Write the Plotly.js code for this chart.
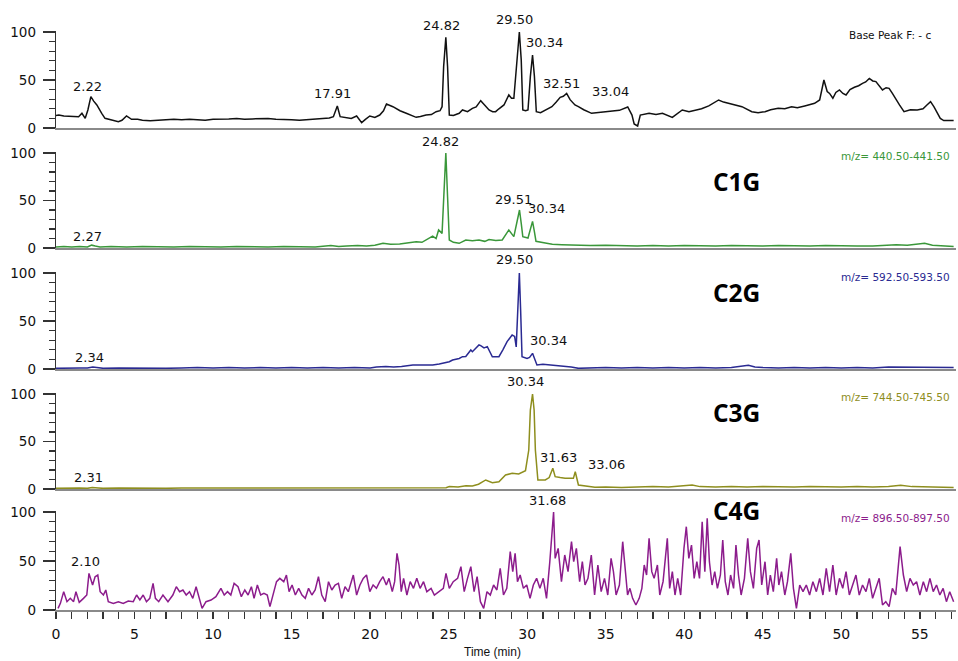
<!DOCTYPE html>
<html><head><meta charset="utf-8">
<script src="https://cdn.plot.ly/plotly-3.0.1.min.js"></script>
<style>html,body{margin:0;padding:0;background:#fff}#chart{width:958px;height:661px}</style>
</head><body><div id="chart"></div>
<script>
// ---------- DATA ----------
const basePeakTime = [0.0,0.18,0.5,0.81,1.1,1.44,1.65,1.86,2.03,2.22,2.4,2.6,2.91,3.12,3.55,3.97,4.2,4.49,4.81,5.2,5.5,6.0,6.5,7.0,7.5,8.0,8.5,9.0,9.5,10.0,10.5,11.0,11.5,12.0,12.5,13.0,13.5,14.0,14.5,15.0,15.5,16.0,16.5,17.0,17.4,17.66,17.91,18.09,18.5,18.8,19.14,19.46,19.7,19.98,20.3,20.61,20.85,21.04,21.45,21.9,22.3,22.93,23.2,23.56,23.9,24.2,24.45,24.58,24.68,24.82,24.93,25.04,25.3,25.67,25.88,26.2,26.51,26.75,27.04,27.3,27.57,27.8,27.99,28.2,28.52,28.83,29.0,29.15,29.33,29.50,29.62,29.72,29.9,30.05,30.2,30.34,30.46,30.58,30.85,31.15,31.57,31.85,32.1,32.3,32.51,32.73,33.04,33.26,33.6,34.1,34.6,35.23,35.87,36.4,36.67,36.81,37.03,37.2,37.76,38.2,38.61,39.24,39.6,39.87,40.3,40.71,41.1,41.56,42.19,42.5,42.82,43.2,43.67,44.3,44.7,45.14,45.5,45.98,46.4,46.83,47.2,47.67,48.0,48.3,48.62,48.89,49.1,49.25,49.46,49.65,49.88,50.1,50.3,50.55,50.83,51.1,51.35,51.55,51.78,52.0,52.2,52.4,52.62,52.85,53.04,53.25,53.46,53.7,53.99,54.4,54.83,55.2,55.45,55.68,55.9,56.1,56.3,56.52,57.15];
const basePeakValue = [13,13.5,12.5,12.5,12,11.8,15.3,10.1,18.8,32.6,28,24,15.3,10.1,8.3,6.6,8,12.5,9,9,8,7.5,8,8.5,9,8.5,9,8.5,8,9,9,9.5,10,9,9.5,10,10,9,9,8.5,8,8.5,9,10,10.5,11.8,22.9,11.8,11.1,10,12.5,5.6,9,12.5,11,13.5,18,25,22.2,18,15.3,11.1,12,13.5,14,17,18,22.2,64,94.4,64,13.5,13,15.3,18.8,17,20.5,22,28.5,24,18.8,17,17,20,24,34.4,31,31,70.8,100,70.8,18.8,18,18.8,53.5,76,53.5,17,16,18.8,22.2,27,32,33,36,29.5,24,22.2,19,15.3,16,17,18.4,21.9,13.5,4.2,2.1,13.5,15.3,14,15.3,11.1,15,18.8,17,18.8,20,23,29.2,27,25.7,24,22.2,17,16,17,19,20.5,20,22.2,21,23,24,25.7,29.2,50,38,36,31,37,39.6,36,34.4,40,42.4,44,46.5,48,51.7,49,48.3,44,39.6,42,41.3,36,31,24,17,19,18.8,20,24,27.4,22,15.3,10,7.7,7.7];

const c1gTime = [0,0.5,1.0,1.5,2.0,2.27,2.5,2.8,3.5,4.5,5.5,6.5,7.5,8.5,9.5,10.5,11.5,12.5,13.5,14.5,15.5,16.5,17.5,18.0,18.5,19.2,19.77,20.3,20.82,21.3,21.88,22.4,22.93,23.3,23.56,23.98,24.2,24.36,24.58,24.68,24.82,24.93,25.04,25.3,25.67,26.09,26.51,26.93,27.3,27.57,28.0,28.41,28.83,29.15,29.33,29.51,29.62,29.72,30.05,30.18,30.34,30.46,30.56,31.15,31.6,32.2,33,34,35,36,37,38,39,40,41,42,43,44,45,46,47,48,49,50,51,52,53,53.5,54.2,55.3,55.8,56.5,57.15];
const c1gValue = [1,1.5,1,1.5,1,3,2,1,1.5,1,1.5,1,1,1.5,1,1,1.5,1,1,1.5,1,1,2.5,1.5,2,2.5,2,3,4.9,4,4.2,5.5,6.7,6,8.4,12.6,10,19,15.4,54,100,54,8.4,6,4.9,8.4,7.7,8.4,7,9,8,8.4,19,12,26,40,26,12,10.5,19,28,17,7,5.3,4,3.5,3,2.5,3,2.5,2,2.5,2,2.5,2,2,2.5,2,2,2.5,2,2,2.5,2,2,2,2.5,3.5,3,5,3,2,1.5];

const c2gTime = [0,0.5,1.0,1.5,2.0,2.34,2.6,3.0,4,5,6,7,8,9,10,11,12,13,14,15,16,17,18,19,20,20.4,21,21.5,22,22.72,23.35,23.98,24.4,25.04,25.25,25.67,25.88,26.09,26.41,26.51,26.93,27.04,27.25,27.46,27.78,28.2,28.45,28.72,29.04,29.2,29.3,29.4,29.50,29.58,29.67,29.99,30.15,30.34,30.62,31.0,31.57,32.0,32.41,32.8,33.26,34,35,36,37,38,39,40,41,42,43,44.08,44.5,45,46,47,48,49,50,51,52,53,54,55,56,57.15];
const c2gValue = [0.7,1,0.7,1,1,2,1.5,0.7,1,0.7,1,0.7,1,1.5,1,1.5,1,1.5,1,1.5,1,1.5,1,1.5,1,2,2.5,2,2.5,4.2,4.2,4.2,5.2,7.6,9.4,11,12.8,13,19.8,18,25,24.3,22,23.3,12.8,12.8,20,28.5,35.4,34,23,62,100,62,12.8,11.1,12,16.3,4.2,5,4.2,3.5,3.1,2,0.7,1,1.5,1,1.5,1,1.5,1,1.5,1,1.5,4,2,1.5,1,1.5,1,1.5,1,1.5,1,2,2,2,2,1.5];

const c3gTime = [0,0.5,1,1.5,2,2.31,2.7,3,4,5,6,7,8,9,10,11,12,13,14,15,16,17,18,19,20,21,22,23,24,24.83,25.04,25.6,26.1,26.51,26.9,27.36,27.78,28.2,28.62,29.04,29.46,29.89,30.1,30.2,30.34,30.44,30.52,30.68,31.15,31.4,31.63,31.78,32.1,32.41,32.94,33.06,33.26,34.31,35,36,37,38,39,40.5,41,42,43,44,45,46,47,48,49,50,51,52,53,53.78,54.5,55.5,56.5,57.15];
const c3gValue = [0.7,1,0.7,1,0.7,1.5,1,0.7,1,0.7,1,0.7,1,1,0.7,1,1.5,1,1,1.5,1,1,1.5,1,1.5,1,1.5,1,1.5,1.4,2.5,2,3.5,3.2,5,9.5,6.7,7.7,14.7,16.5,15.8,19.3,41,83,100,83,41,9.5,9.5,12,21.8,13,12,11.2,11.2,18.2,4.2,1.8,2,1.5,2,2.5,2,4.2,2.5,2,2.5,2,2.5,2,2,2.5,2,2,2.5,2,2.5,4,2.5,2,2,1.5];

const c4gTime = [0.13,0.28,0.49,0.70,0.91,1.12,1.27,1.48,1.75,1.96,2.10,2.33,2.49,2.66,2.81,3.02,3.17,3.33,3.65,3.97,4.28,4.60,4.92,5.13,5.34,5.55,5.76,5.97,6.18,6.33,6.54,6.81,7.13,7.44,7.66,7.87,8.08,8.29,8.50,8.71,8.92,9.13,9.30,9.55,9.87,10.18,10.50,10.71,10.92,11.13,11.34,11.59,11.80,12.02,12.23,12.44,12.61,12.82,13.03,13.24,13.45,13.62,13.83,14.04,14.25,14.50,14.67,14.84,15.03,15.24,15.45,15.66,15.87,16.08,16.29,16.50,16.71,16.92,17.14,17.35,17.56,17.77,17.98,18.19,18.40,18.61,18.93,19.14,19.35,19.56,19.77,19.98,20.19,20.40,20.61,20.82,21.03,21.20,21.41,21.56,21.71,21.84,21.98,22.13,22.34,22.55,22.76,22.97,23.18,23.40,23.61,23.88,24.09,24.41,24.66,24.83,25.04,25.29,25.57,25.78,25.99,26.20,26.41,26.62,26.81,27.02,27.23,27.44,27.65,27.86,28.07,28.28,28.49,28.70,28.92,29.08,29.23,29.38,29.55,29.76,29.97,30.18,30.39,30.60,30.81,31.02,31.23,31.44,31.68,31.78,31.97,32.18,32.39,32.60,32.82,32.96,33.13,33.34,33.51,33.68,33.87,34.08,34.29,34.50,34.71,34.92,35.13,35.34,35.49,35.66,35.87,36.08,36.25,36.39,36.54,36.71,36.92,37.13,37.30,37.45,37.60,37.76,37.93,38.08,38.29,38.44,38.65,38.92,39.07,39.24,39.41,39.58,39.77,39.98,40.13,40.29,40.46,40.63,40.80,40.97,41.14,41.31,41.46,41.60,41.77,41.94,42.11,42.30,42.45,42.61,42.78,42.95,43.14,43.29,43.45,43.62,43.83,44.04,44.21,44.40,44.61,44.76,44.93,45.14,45.31,45.48,45.67,45.88,46.02,46.19,46.40,46.57,46.78,46.95,47.14,47.35,47.56,47.77,47.98,48.19,48.41,48.62,48.83,49.04,49.25,49.46,49.67,49.88,50.09,50.30,50.51,50.72,50.93,51.14,51.35,51.57,51.78,51.99,52.20,52.41,52.62,52.83,53.04,53.25,53.46,53.74,53.95,54.16,54.37,54.58,54.79,55.00,55.22,55.43,55.64,55.85,56.06,56.27,56.48,56.69,56.90,57.15];
const c4gValue = [1.7,6.8,18.7,8.5,11.9,8.5,18.7,7.8,11.9,15.3,37.4,25.5,34,35.7,18.7,15.3,20.4,8.5,6.8,8.5,6.8,9.2,8.5,15.3,10.2,15.3,8.5,11.9,27.2,11.9,8.5,15.3,8.5,15.3,23.8,18.7,20.4,15.3,18.7,11.9,23.8,11.9,1.7,8.5,10.2,13.6,22.1,15.3,18.7,15.3,27.2,23.8,13.6,20.4,15.3,23.8,11.9,25.5,15.3,17,15.3,3.4,15.3,28.9,32.3,28.9,35.7,18.7,25.5,15.3,22.1,15.3,11.9,22.1,15.3,20.4,34,15.3,8.5,28.9,20.4,25.5,27.2,11.9,23.8,18.7,35.7,15.3,25.5,32.3,35.7,18.7,25.5,22.1,28.9,34,25.5,32.3,18.7,28.9,57.8,45.9,18.7,32.3,15.3,28.9,22.1,32.3,22.1,28.9,18.7,22.1,15.3,18.7,22.1,37.4,22.1,28.9,32.3,44.2,18.7,32.3,44.2,18.7,34,8.5,1.7,18.7,15.3,25.5,20.4,42.5,15.3,22.1,59.5,39.1,57.8,28.9,35.7,22.1,25.5,11.9,25.5,32.3,22.1,32.3,11.9,49.3,100,52.7,62.9,28.9,56.1,39.1,69.7,49.3,62.9,28.9,49.3,25.5,32.3,56.1,15.3,45.9,18.7,32.3,15.3,52.7,39.1,15.3,25.5,69.7,35.7,15.3,22.1,11.9,5.1,11.9,22.1,45.9,35.7,73.1,39.1,32.3,45.9,15.3,28.9,73.1,22.1,39.1,15.3,32.3,15.3,62.9,85,52.7,66.3,32.3,49.3,32.3,90,39.1,93.5,49.3,25.5,39.1,22.1,35.7,71.4,28.9,15.3,35.7,22.1,66.3,35.7,15.3,32.3,73.1,39.1,22.1,62.9,71.4,25.5,49.3,15.3,35.7,18.7,52.7,25.5,39.1,15.3,28.9,57.8,22.1,1.7,25.5,18.7,25.5,15.3,28.9,18.7,32.3,15.3,42.5,18.7,45.9,15.3,32.3,22.1,39.1,15.3,25.5,35.7,15.3,25.5,18.7,32.3,11.9,22.1,32.3,5.1,8.5,3.4,22.1,15.3,64.6,35.7,18.7,32.3,25.5,28.9,15.3,28.9,18.7,32.3,18.7,25.5,15.3,22.1,8.5,18.7,8.5];

const panelNames = ['', 'C1G', 'C2G', 'C3G', 'C4G'];
const panelRangeLabels = ['Base Peak F: - c', 'm/z= 440.50-441.50', 'm/z= 592.50-593.50', 'm/z= 744.50-745.50', 'm/z= 896.50-897.50'];
const yTickValues = [0, 50, 100];
const yMinorTickValues = [10, 20, 30, 40, 60, 70, 80, 90];
const xAxisTitle = 'Time (min)';

// peak labels: panel index (1-5) and retention time
const labelPanel = [1,1,1,1,1,1,1, 2,2,2,2, 3,3,3, 4,4,4,4, 5,5];
const labelTime = [2.22,17.91,24.82,29.50,30.34,32.51,33.04, 2.27,24.82,29.51,30.34, 2.34,29.50,30.34, 2.31,30.34,31.63,33.06, 2.10,31.68];

// ---------- STYLE / LAYOUT ----------
const series = [[basePeakTime, basePeakValue],[c1gTime, c1gValue],[c2gTime, c2gValue],[c3gTime, c3gValue],[c4gTime, c4gValue]];
const colors = ['#111111', '#3a973a', '#2a2a92', '#8e8e1e', '#8c1c8c'];
const W = 958, H = 661;
const basePx = [128, 248, 369, 489, 610];
const pxPerUnit = [0.96, 0.95, 0.96, 0.95, 0.98];
const yTop = 101;
const xDom = [56 / W, 956 / W];
const xRange = [0, 57.3];
// label offsets [xshift, yshift, xanchor]
const labelOffsets = [[-3,1,'center'],[-4.5,3,'center'],[-4,2,'center'],[-5,3,'center'],[-9,3,'left'],[-5,0,'center'],[36,4,'center'],
  [-4,-1,'center'],[-5,2,'center'],[-6,1,'center'],[-6.5,3,'left'],
  [-3.5,0,'center'],[-5,4,'center'],[-5,3,'left'],
  [-3.5,1,'center'],[-7,3,'center'],[6,1,'center'],[31,-2,'center'],
  [-3,2,'center'],[-6,2,'center']];
const nameY = [0, 181, 292, 412, 510];
const rangeLabelY = [35, 156, 277, 397, 518];
const rangeLabelX = [933, 952, 952, 952, 952];

const traces = series.map((s, i) => ({
  type: 'scatter', mode: 'lines', x: s[0], y: s[1],
  xaxis: 'x' + (i === 0 ? '' : i + 1), yaxis: 'y' + (i === 0 ? '' : i + 1),
  line: {color: colors[i], width: 1.5}, hoverinfo: 'skip', showlegend: false
}));

const layout = {
  width: W, height: H, margin: {l: 0, r: 0, t: 0, b: 0},
  paper_bgcolor: '#ffffff', plot_bgcolor: 'rgba(0,0,0,0)',
  showlegend: false, annotations: []
};
const tickFont = {family: 'DejaVu Sans, sans-serif', size: 13.5, color: '#111'};
for (let i = 0; i < 5; i++) {
  const sfx = i === 0 ? '' : String(i + 1);
  const bottom = (H - basePx[i]) / H;
  const top = (H - (basePx[i] - yTop * pxPerUnit[i])) / H;
  const isLast = i === 4;
  const xa = {
    domain: xDom, range: xRange, anchor: 'y' + sfx,
    showline: true, linecolor: '#8a8a8a', linewidth: 2,
    showgrid: false, zeroline: false, fixedrange: true,
    showticklabels: isLast, ticks: isLast ? 'outside' : ''
  };
  if (i > 0) xa.matches = 'x';
  if (isLast) {
    Object.assign(xa, {
      tickmode: 'linear', tick0: 0, dtick: 5, ticklen: 7, tickwidth: 1.3, tickcolor: '#333',
      tickfont: {family: 'DejaVu Sans, sans-serif', size: 14, color: '#111'},
      ticklabelstandoff: 3,
      minor: {ticks: 'outside', dtick: 1, tick0: 0, ticklen: 7, tickwidth: 1.3, tickcolor: '#333', showgrid: false}
    });
  }
  layout['xaxis' + sfx] = xa;
  layout['yaxis' + sfx] = {
    domain: [bottom, top], range: [0, yTop], anchor: 'x' + sfx,
    showline: true, linecolor: '#333', linewidth: 1.3,
    showgrid: false, zeroline: false, fixedrange: true,
    ticks: 'outside', tickmode: 'array', tickvals: yTickValues, ticklen: 12, tickwidth: 1.3, tickcolor: '#333',
    tickfont: tickFont, ticklabelstandoff: 4,
    minor: {ticks: 'outside', tickmode: 'array', tickvals: yMinorTickValues, ticklen: 6, tickwidth: 1.3, tickcolor: '#333', showgrid: false}
  };
  layout.annotations.push({
    xref: 'paper', yref: 'paper', x: rangeLabelX[i] / W, y: 1 - rangeLabelY[i] / H,
    xanchor: 'right', yanchor: 'middle', showarrow: false, text: panelRangeLabels[i],
    font: {family: 'DejaVu Sans, sans-serif', size: 10.5, color: i === 0 ? '#111' : colors[i]}
  });
  if (panelNames[i]) {
    layout.annotations.push({
      xref: 'paper', yref: 'paper', x: 736 / W, y: 1 - nameY[i] / H,
      xanchor: 'center', yanchor: 'middle', showarrow: false, text: '<b>' + panelNames[i] + '</b>',
      font: {family: 'Open Sans, sans-serif', size: 24.5, color: '#000'}
    });
  }
}
labelTime.forEach((t, k) => {
  const p = labelPanel[k] - 1;
  const s = series[p];
  const idx = s[0].findIndex(v => Math.abs(v - t) < 1e-9);
  const sfx = p === 0 ? '' : String(p + 1);
  const off = labelOffsets[k];
  layout.annotations.push({
    xref: 'x' + sfx, yref: 'y' + sfx, x: t, y: s[1][idx],
    xanchor: off[2], yanchor: 'bottom', xshift: off[0], yshift: off[1],
    showarrow: false, text: t.toFixed(2),
    font: {family: 'DejaVu Sans, sans-serif', size: 13, color: '#111'}
  });
});
layout.annotations.push({
  xref: 'paper', yref: 'paper', x: 492 / W, y: 1 - 652 / H,
  xanchor: 'center', yanchor: 'middle', showarrow: false, text: xAxisTitle,
  font: {family: 'Liberation Sans, Arial, sans-serif', size: 12, color: '#111'}
});

Plotly.newPlot('chart', traces, layout, {staticPlot: true, displayModeBar: false});
</script>
</body></html>
